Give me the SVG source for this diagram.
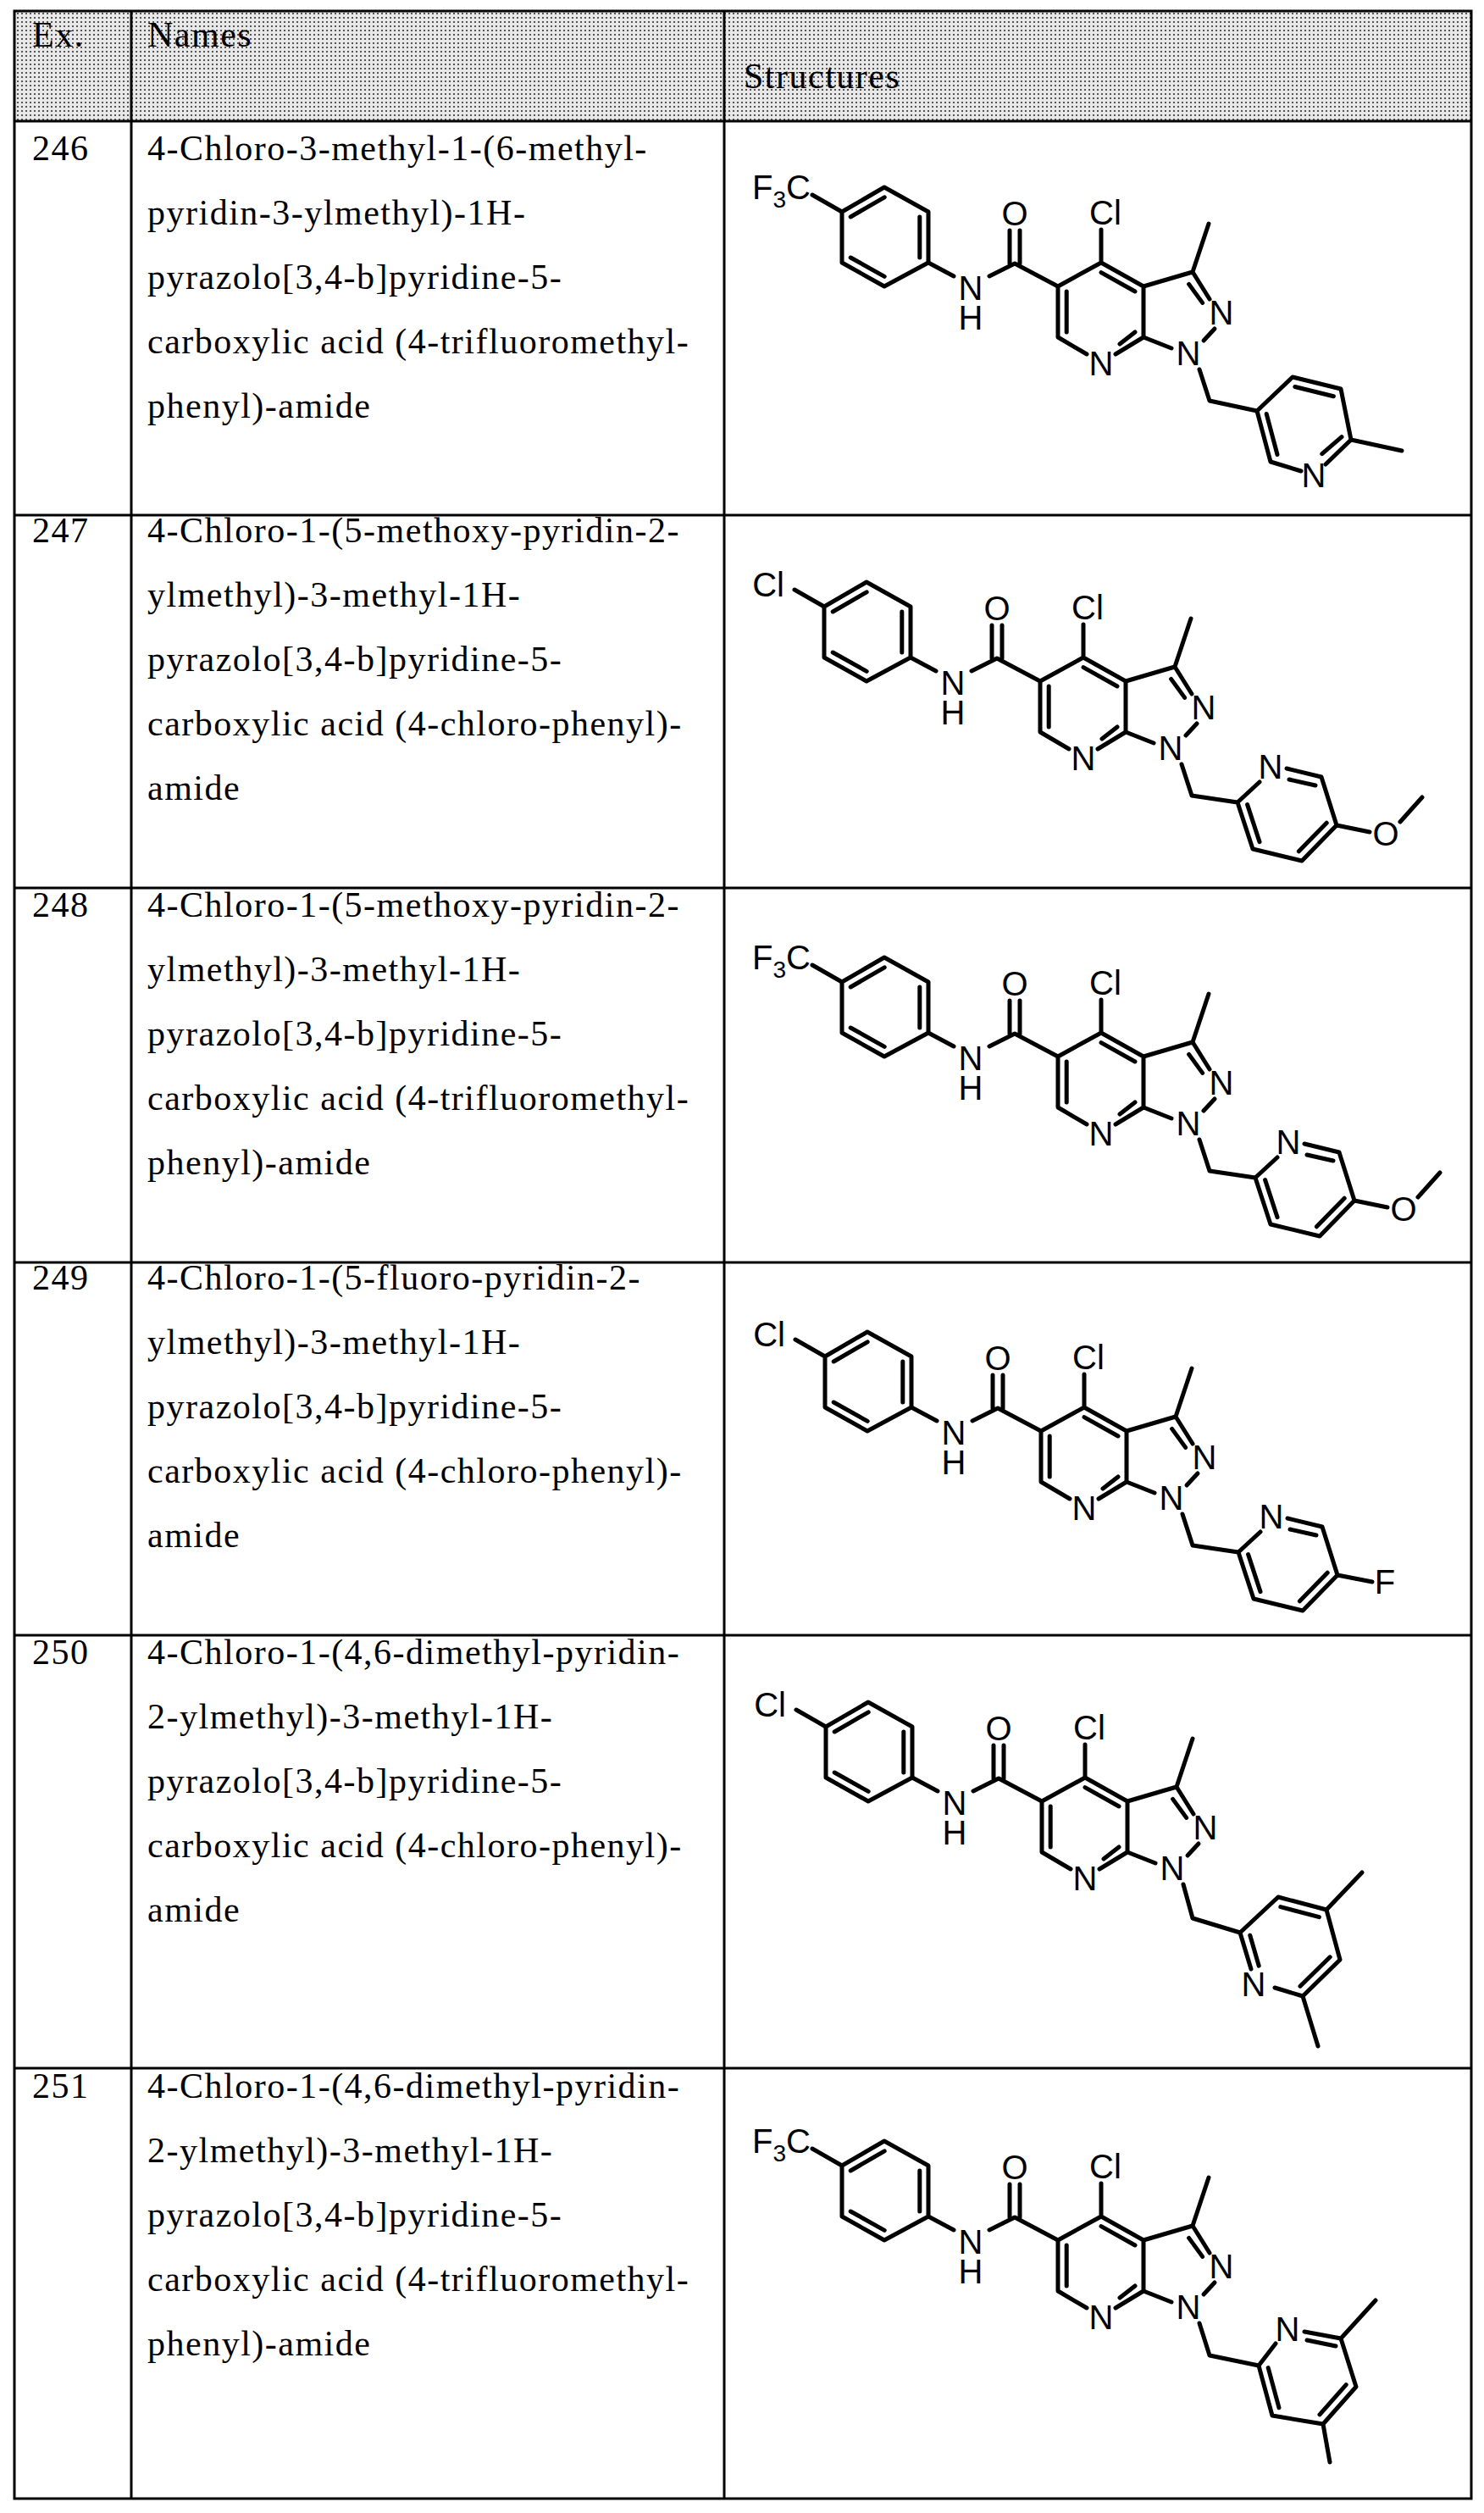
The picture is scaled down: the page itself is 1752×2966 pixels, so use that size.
<svg xmlns="http://www.w3.org/2000/svg" xmlns:xlink="http://www.w3.org/1999/xlink" width="1752" height="2966" viewBox="0 0 1752 2966">
<style>
.b{stroke:#000;stroke-width:5;fill:none;stroke-linecap:round;stroke-linejoin:round}
.t{stroke:#000;stroke-width:3;fill:none}
.a{font-family:"Liberation Sans",Arial,sans-serif;font-size:40px;text-anchor:middle;fill:#000}
.e{font-family:"Liberation Sans",Arial,sans-serif;font-size:40px;text-anchor:end;fill:#000}
.n{font-family:"Liberation Serif","Times New Roman",serif;font-size:42px;letter-spacing:1.5px;fill:#000}
</style>
<defs>
<pattern id="dots" width="5" height="5" patternUnits="userSpaceOnUse">
<rect width="5" height="5" fill="#e8e8e8"/>
<rect width="2" height="2" fill="#555"/>
</pattern>
<g id="core">
<path class="b" d="M-341,-80L-306,-60"/>
<path class="b" d="M-306,-60L-256,-89L-204,-60L-204,0L-256,28L-306,0Z M-295.8,-54L-255.8,-77.2 M-214.2,-54L-214.2,-6 M-255.8,16.4L-295.8,-6"/>
<path class="b" d="M-204,0L-174,16 M-132,16L-102,1L-51,28 M-108,1L-108,-38 M-96,1L-96,-38"/>
<path class="b" d="M-51,28L0,0L50,28L50,88L17,108 M-51,28L-51,88L-17,108 M0,0L0,-39 M-40.8,34L-40.8,82 M0,11.6L40,34 M40,82L22,96"/>
<path class="b" d="M50,28L108,11L128,43 M103.6,25.4L119.6,47.4 M108,11L127,-46 M134,78L121,92 M83,101L50,88"/>
<text class="a" x="-154" y="44">N</text>
<text class="a" x="-154" y="79">H</text>
<text class="a" x="-102" y="-44">O</text>
<text class="a" x="5" y="-45">Cl</text>
<text class="a" x="0" y="133">N</text>
<text class="a" x="142" y="73">N</text>
<text class="a" x="103" y="121">N</text>
</g>
</defs>
<rect width="1752" height="2966" fill="#fff"/>
<g id="table">
<rect x="17" y="13" width="1720" height="130" fill="url(#dots)"/>
<rect x="17" y="13" width="1720" height="2936" class="t" stroke-width="4"/>
<path class="t" d="M155,13V2949 M855,13V2949 M17,143H1737 M17,608H1737 M17,1048H1737 M17,1490H1737 M17,1930H1737 M17,2441H1737"/>
<text class="n" x="38" y="55">Ex.</text>
<text class="n" x="174" y="55">Names</text>
<text class="n" x="878" y="104">Structures</text>
</g>
<g id="row246">
<text class="n" x="38" y="189">246</text>
<text class="n" x="174" y="189">4-Chloro-3-methyl-1-(6-methyl-</text>
<text class="n" x="174" y="265">pyridin-3-ylmethyl)-1H-</text>
<text class="n" x="174" y="341">pyrazolo[3,4-b]pyridine-5-</text>
<text class="n" x="174" y="417">carboxylic acid (4-trifluoromethyl-</text>
<text class="n" x="174" y="493">phenyl)-amide</text>
<g transform="translate(1300,310)">
<use xlink:href="#core"/>
<text class="e" x="-343" y="-75">F<tspan font-size="28" dy="10">3</tspan><tspan dy="-10">C</tspan></text>
<path class="b" d="M116,126L128,163L184,175L226,135L283,149L295,209L265,238 M236,246L200,235L184,175 M295,209L355,222 M228.8,146.5L274.4,157.7 M284,205.7L260.8,225.7 M208,226.5L195.2,178.5"/>
<text class="a" x="251" y="265">N</text>
</g>
</g>
<g id="row247">
<text class="n" x="38" y="640">247</text>
<text class="n" x="174" y="640">4-Chloro-1-(5-methoxy-pyridin-2-</text>
<text class="n" x="174" y="716">ylmethyl)-3-methyl-1H-</text>
<text class="n" x="174" y="792">pyrazolo[3,4-b]pyridine-5-</text>
<text class="n" x="174" y="868">carboxylic acid (4-chloro-phenyl)-</text>
<text class="n" x="174" y="944">amide</text>
<g transform="translate(1279,776)">
<use xlink:href="#core"/>
<text class="e" x="-353" y="-72">Cl</text>
<path class="b" d="M116,126L128,163L182,171L208,147 M240,131L281,141L299,198L258,240L200,226L182,171 M243,144L274,151 M287.2,195.2L254.4,228.8 M208,217.6L193.6,173.6 M299,198L338,206 M374,194L400,165"/>
<text class="a" x="221" y="143">N</text>
<text class="a" x="357" y="222">O</text>
</g>
</g>
<g id="row248">
<text class="n" x="38" y="1082">248</text>
<text class="n" x="174" y="1082">4-Chloro-1-(5-methoxy-pyridin-2-</text>
<text class="n" x="174" y="1158">ylmethyl)-3-methyl-1H-</text>
<text class="n" x="174" y="1234">pyrazolo[3,4-b]pyridine-5-</text>
<text class="n" x="174" y="1310">carboxylic acid (4-trifluoromethyl-</text>
<text class="n" x="174" y="1386">phenyl)-amide</text>
<g transform="translate(1300,1219)">
<use xlink:href="#core"/>
<text class="e" x="-343" y="-75">F<tspan font-size="28" dy="10">3</tspan><tspan dy="-10">C</tspan></text>
<path class="b" d="M116,126L128,163L182,171L208,147 M240,131L281,141L299,198L258,240L200,226L182,171 M243,144L274,151 M287.2,195.2L254.4,228.8 M208,217.6L193.6,173.6 M299,198L338,206 M374,194L400,165"/>
<text class="a" x="221" y="143">N</text>
<text class="a" x="357" y="222">O</text>
</g>
</g>
<g id="row249">
<text class="n" x="38" y="1522">249</text>
<text class="n" x="174" y="1522">4-Chloro-1-(5-fluoro-pyridin-2-</text>
<text class="n" x="174" y="1598">ylmethyl)-3-methyl-1H-</text>
<text class="n" x="174" y="1674">pyrazolo[3,4-b]pyridine-5-</text>
<text class="n" x="174" y="1750">carboxylic acid (4-chloro-phenyl)-</text>
<text class="n" x="174" y="1826">amide</text>
<g transform="translate(1280,1661)">
<use xlink:href="#core"/>
<text class="e" x="-353" y="-72">Cl</text>
<path class="b" d="M116,126L128,163L182,171L208,147 M240,131L281,141L299,198L258,240L200,226L182,171 M243,144L274,151 M287.2,195.2L254.4,228.8 M208,217.6L193.6,173.6 M299,198L340,206"/>
<text class="a" x="355" y="220">F</text>
<text class="a" x="221" y="143">N</text>
</g>
</g>
<g id="row250">
<text class="n" x="38" y="1964">250</text>
<text class="n" x="174" y="1964">4-Chloro-1-(4,6-dimethyl-pyridin-</text>
<text class="n" x="174" y="2040">2-ylmethyl)-3-methyl-1H-</text>
<text class="n" x="174" y="2116">pyrazolo[3,4-b]pyridine-5-</text>
<text class="n" x="174" y="2192">carboxylic acid (4-chloro-phenyl)-</text>
<text class="n" x="174" y="2268">amide</text>
<g transform="translate(1281,2098)">
<use xlink:href="#core"/>
<text class="e" x="-353" y="-72">Cl</text>
<path class="b" d="M116,126L127,166L183,183L228,141L285,156L301,215L257,258L224,248 M196,226L183,183 M285,156L327,112 M257,258L275,317 M230.8,152.6L276.4,164.6 M289.2,211.8L254,246.2 M194.8,186.2L205.2,222.2"/>
<text class="a" x="199" y="258">N</text>
</g>
</g>
<g id="row251">
<text class="n" x="38" y="2476">251</text>
<text class="n" x="174" y="2476">4-Chloro-1-(4,6-dimethyl-pyridin-</text>
<text class="n" x="174" y="2552">2-ylmethyl)-3-methyl-1H-</text>
<text class="n" x="174" y="2628">pyrazolo[3,4-b]pyridine-5-</text>
<text class="n" x="174" y="2704">carboxylic acid (4-trifluoromethyl-</text>
<text class="n" x="174" y="2780">phenyl)-amide</text>
<g transform="translate(1300,2616)">
<use xlink:href="#core"/>
<text class="e" x="-343" y="-75">F<tspan font-size="28" dy="10">3</tspan><tspan dy="-10">C</tspan></text>
<path class="b" d="M116,126L128,164L186,176L206,150 M240,136L283,144L301,201L262,245L202,235L186,176 M283,144L324,99 M262,245L270,290 M243,146L277,153 M289.2,198.6L258,233.8 M210,225.8L197.2,178.6"/>
<text class="a" x="220" y="147">N</text>
</g>
</g>
</svg>
